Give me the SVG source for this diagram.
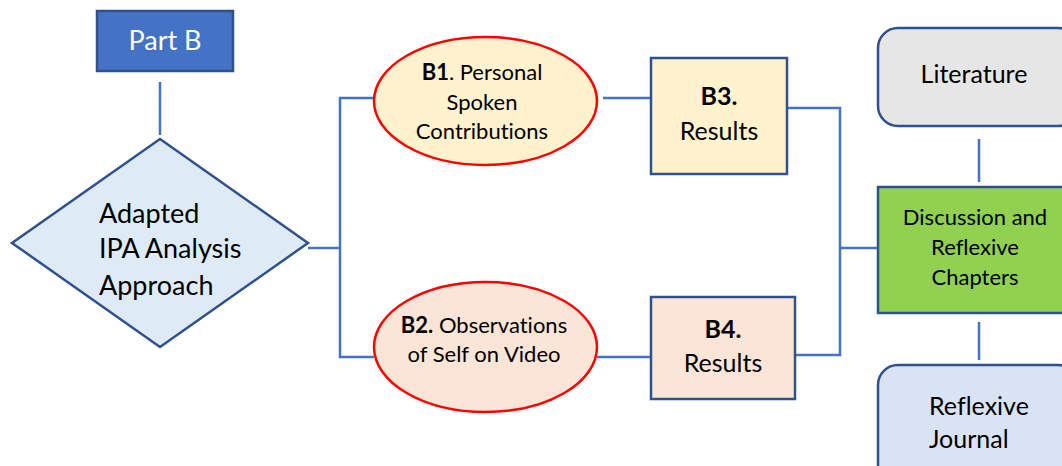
<svg xmlns="http://www.w3.org/2000/svg" width="1062" height="466" viewBox="0 0 1062 466">
  <style>
    text { font-family: Lato, "Open Sans", "Liberation Sans", sans-serif; fill: #000; font-variant-ligatures: none; }
    .c { text-anchor: middle; }
    .b { font-weight: bold; }
    .edge { fill: none; stroke: #4472C4; stroke-width: 2.5; }
    .box { stroke: #2F528F; stroke-width: 2.5; }
    .oval { stroke: #FF0000; stroke-width: 2.5; }
  </style>
  <rect width="1062" height="466" fill="#FFFFFF"/>

  <g id="connectors">
    <line class="edge" x1="160" y1="82" x2="160" y2="135"/>
    <line class="edge" x1="308" y1="248" x2="340" y2="248" stroke-width="4"/>
    <polyline class="edge" points="374,98 340,98 340,357 374,357"/>
    <line class="edge" x1="603" y1="98" x2="651" y2="98"/>
    <line class="edge" x1="597" y1="357" x2="651" y2="357"/>
    <polyline class="edge" points="787,108 840,108 840,355 796,355"/>
    <line class="edge" x1="840" y1="248" x2="878" y2="248"/>
    <line class="edge" x1="979" y1="139" x2="979" y2="182"/>
    <line class="edge" x1="979" y1="322" x2="979" y2="360"/>
  </g>

  <g id="part-b">
    <rect class="box" x="97" y="11" width="136" height="60" fill="#4472C4"/>
    <text class="c" x="165" y="50" font-size="27" style="fill:#FFFFFF">Part B</text>
  </g>

  <g id="ipa-approach">
    <polygon class="box" points="160,139 308,243 160,347 12,243" fill="#DEEBF7"/>
    <text x="99" y="223" font-size="27">Adapted</text>
    <text x="99" y="258" font-size="27">IPA Analysis</text>
    <text x="99" y="295" font-size="27">Approach</text>
  </g>

  <g id="b1">
    <ellipse class="oval" cx="485.5" cy="101" rx="111.5" ry="64" fill="#FFF2CC"/>
    <text class="c" x="482" y="80" font-size="22"><tspan class="b">B1</tspan>. Personal</text>
    <text class="c" x="482" y="110" font-size="22">Spoken</text>
    <text class="c" x="482" y="139" font-size="22">Contributions</text>
  </g>

  <g id="b2">
    <ellipse class="oval" cx="485.5" cy="347" rx="111.5" ry="65" fill="#FBE5D6"/>
    <text class="c" x="484" y="333" font-size="22"><tspan class="b">B2.</tspan> Observations</text>
    <text class="c" x="484" y="362" font-size="22">of Self on Video</text>
  </g>

  <g id="b3">
    <rect class="box" x="651" y="58" width="136" height="116" fill="#FFF2CC"/>
    <text class="c b" x="719" y="105" font-size="25">B3.</text>
    <text class="c" x="719" y="140" font-size="25">Results</text>
  </g>

  <g id="b4">
    <rect class="box" x="651" y="297" width="144" height="102" fill="#FBE5D6"/>
    <text class="c b" x="723" y="338" font-size="25">B4.</text>
    <text class="c" x="723" y="372" font-size="25">Results</text>
  </g>

  <g id="literature">
    <rect class="box" x="878" y="28" width="200" height="98" rx="20" fill="#E7E6E6"/>
    <text class="c" x="974" y="83" font-size="25">Literature</text>
  </g>

  <g id="discussion">
    <rect class="box" x="878" y="187" width="200" height="126" fill="#92D050"/>
    <text class="c" x="975" y="225" font-size="22">Discussion and</text>
    <text class="c" x="975" y="255" font-size="22">Reflexive</text>
    <text class="c" x="975" y="285" font-size="22">Chapters</text>
  </g>

  <g id="reflexive-journal">
    <rect class="box" x="878" y="365" width="200" height="130" rx="20" fill="#DAE3F3"/>
    <text x="929" y="415" font-size="25">Reflexive</text>
    <text x="929" y="448" font-size="25">Journal</text>
  </g>
</svg>
